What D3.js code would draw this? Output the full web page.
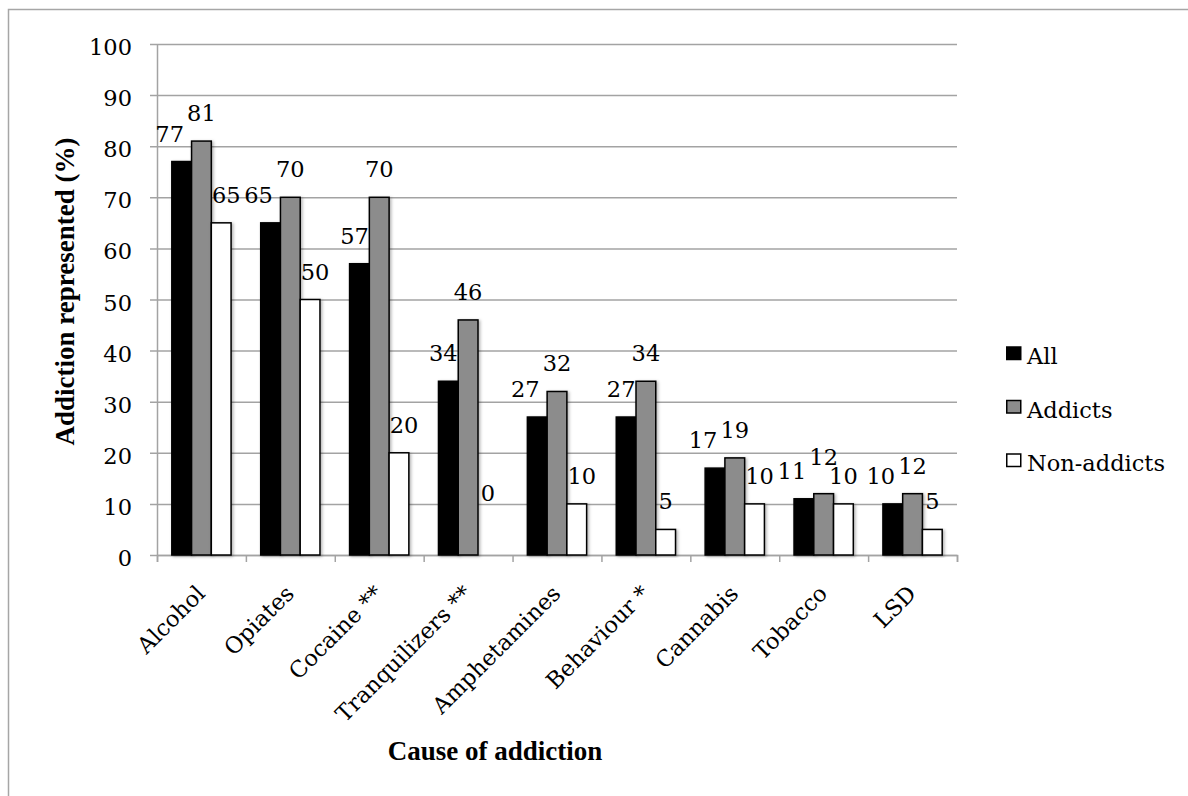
<!DOCTYPE html>
<html>
<head>
<meta charset="utf-8">
<script src="https://cdn.jsdelivr.net/npm/d3@7"></script>
<style>
  html, body { margin: 0; padding: 0; background: #fff; }
  svg { display: block; }
</style>
</head>
<body>
<svg id="chart" width="1188" height="796"></svg>
<script>
// Share of each cause of addiction represented, by respondent group
const categories = ["Alcohol", "Opiates", "Cocaine **", "Tranquilizers **", "Amphetamines",
                    "Behaviour *", "Cannabis", "Tobacco", "LSD"];
const seriesNames = ["All", "Addicts", "Non-addicts"];
const allValues       = [77, 65, 57, 34, 27, 27, 17, 11, 10];
const addictValues    = [81, 70, 70, 46, 32, 34, 19, 12, 12];
const nonAddictValues = [65, 50, 20,  0, 10,  5, 10, 10,  5];
const yTicks = [0, 10, 20, 30, 40, 50, 60, 70, 80, 90, 100];
const seriesFill = ["#000000", "#8c8c8c", "#ffffff"];

const seriesValues = [allValues, addictValues, nonAddictValues];

const W = 1188, H = 796;
const plot = { left: 157, right: 957, top: 44, bottom: 555 };
const serif = "'DejaVu Serif', serif";
const titleFont = "'Liberation Serif', 'Times New Roman', serif";
const fontSize = 22.5;
const gridColor = "#a3a3a3";

const svg = d3.select("#chart");

// drop shadow under the bars
const defs = svg.append("defs");
const shadow = defs.append("filter").attr("id", "barShadow")
  .attr("x", "-20%").attr("y", "-5%").attr("width", "150%").attr("height", "115%");
shadow.append("feDropShadow")
  .attr("dx", 1.5).attr("dy", 1).attr("stdDeviation", 1.4)
  .attr("flood-color", "#000").attr("flood-opacity", 0.3);

// outer chart frame
svg.append("rect")
  .attr("x", 8.5).attr("y", 9.5)
  .attr("width", W + 20).attr("height", H + 20)
  .attr("fill", "none").attr("stroke", "#a6a6a6").attr("stroke-width", 1.5);

const y = d3.scaleLinear().domain([0, 100]).range([plot.bottom, plot.top]);
const x0 = d3.scaleBand().domain(categories).range([plot.left, plot.right]).padding(0);
const groupWidth = x0.bandwidth() * 2 / 3;
const groupOffset = (x0.bandwidth() - groupWidth) / 2;
const x1 = d3.scaleBand().domain(seriesNames).range([0, groupWidth]).padding(0);

// gridlines + y axis
const yAxis = svg.append("g")
  .attr("transform", `translate(${plot.left},0)`)
  .call(d3.axisLeft(y).tickValues(yTicks).tickSizeInner(-(plot.right - plot.left)).tickSizeOuter(0));
yAxis.select(".domain").attr("stroke", gridColor).attr("stroke-width", 1.5);
yAxis.selectAll(".tick line")
  .attr("x1", -7)
  .attr("stroke", gridColor).attr("stroke-width", 1.5);
yAxis.selectAll(".tick text")
  .attr("x", -25).attr("dy", "0.47em")
  .attr("font-family", serif).attr("font-size", fontSize).attr("fill", "#000");

// x axis with ticks between categories
const xIdx = d3.scaleLinear().domain([0, categories.length]).range([plot.left, plot.right]);
const xAxis = svg.append("g")
  .attr("transform", `translate(0,${plot.bottom})`)
  .call(d3.axisBottom(xIdx).tickValues(d3.range(categories.length + 1)).tickSize(7).tickFormat(""));
xAxis.select(".domain").attr("stroke", gridColor).attr("stroke-width", 1.5);
xAxis.selectAll(".tick line").attr("stroke", gridColor).attr("stroke-width", 1.5);

// bars
const rows = categories.map((c, i) => ({
  category: c,
  values: seriesNames.map((s, k) => ({ category: c, series: s, k, value: seriesValues[k][i] }))
}));

const groups = svg.append("g").selectAll("g")
  .data(rows).join("g")
  .attr("transform", d => `translate(${x0(d.category) + groupOffset},0)`);

groups.selectAll("rect")
  .data(d => d.values.filter(v => v.value > 0))
  .join("rect")
  .attr("x", d => x1(d.series))
  .attr("y", d => y(d.value))
  .attr("width", x1.bandwidth())
  .attr("height", d => y(0) - y(d.value))
  .attr("fill", d => seriesFill[d.k])
  .attr("stroke", "#000").attr("stroke-width", 1.5)
  .attr("filter", "url(#barShadow)");

// value labels above the bars; crowded ones are nudged aside
const labelGap = 20, zeroLift = 34, glyphH = 16.5, mx = 1.5, my = 5;
const labelLayer = svg.append("g");
const labels = [];
rows.forEach(r => r.values.forEach(v => {
  const barX = x0(v.category) + groupOffset + x1(v.series);
  const t = labelLayer.append("text")
    .attr("font-family", serif).attr("font-size", fontSize)
    .attr("text-anchor", "middle").attr("fill", "#000")
    .text(v.value);
  labels.push({ ...v, node: t, barX, cx: barX + x1.bandwidth() / 2,
                base: y(v.value) - labelGap - (v.value === 0 ? zeroLift : 0),
                w: t.node().getComputedTextLength() });
}));

const bars = labels.filter(l => l.value > 0)
  .map(l => ({ x0: l.barX, x1: l.barX + x1.bandwidth(), y0: y(l.value), y1: y(0), ref: l }));
// text box for label-vs-label tests, and a tighter one for label-vs-bar tests
const box = (l, m = mx) => ({ x0: l.cx - l.w / 2 - m, x1: l.cx + l.w / 2 + m, y0: l.base - glyphH - my, y1: l.base + my });
const hit = (a, b) => a.x0 < b.x1 && b.x0 < a.x1 && a.y0 < b.y1 && b.y0 < a.y1;

const placed = [];
const clashes = l => {
  return placed.some(p => p !== l && hit(box(l), box(p))) ||
         bars.some(r => r.ref !== l && hit(box(l, 0.5), r));
};
// slide a label sideways (dir -1 / +1) up to maxShift; returns true when it found a free spot
function slide(l, dir, maxShift) {
  const start = l.cx;
  for (let s = 0; s <= maxShift; s += 0.5) {
    l.cx = start + dir * s;
    if (!clashes(l)) return true;
  }
  l.cx = start;
  return false;
}

const byK = k => labels.filter(l => l.k === k);
byK(1).forEach(l => placed.push(l));                   // middle series stays centred
byK(2).forEach(l => {                                   // right series slides right
  if (!slide(l, 1, 8)) {
    // no room: lift the neighbouring middle label just clear of it
    const mid = placed.find(p => p.k === 1 && p.category === l.category);
    mid.base = Math.min(mid.base, l.base - glyphH - 2);
  }
  placed.push(l);
});
byK(0).forEach(l => { slide(l, -1, 30); placed.push(l); });   // left series slides left

labels.forEach(l => l.node.attr("x", l.cx).attr("y", l.base));

// category labels, rotated
svg.append("g").selectAll("text")
  .data(categories).join("text")
  .attr("transform", d => `translate(${x0(d) + x0.bandwidth() / 2 + 5},${plot.bottom + 40}) rotate(-45)`)
  .attr("text-anchor", "end")
  .attr("font-family", serif).attr("font-size", fontSize).attr("fill", "#000")
  .text(d => d);

// axis titles
svg.append("text")
  .attr("x", 495).attr("y", 760)
  .attr("text-anchor", "middle")
  .attr("font-family", titleFont).attr("font-weight", "bold").attr("font-size", 27)
  .text("Cause of addiction");

svg.append("text")
  .attr("transform", `translate(74,${(plot.top + plot.bottom) / 2 - 8}) rotate(-90)`)
  .attr("text-anchor", "middle")
  .attr("font-family", titleFont).attr("font-weight", "bold").attr("font-size", 27)
  .text("Addiction represented (%)");

// legend
const legendSpacing = 53.5;
const legend = svg.append("g").selectAll("g")
  .data(seriesNames).join("g")
  .attr("transform", (d, i) => `translate(1006,${353.5 + i * legendSpacing})`);
legend.append("rect")
  .attr("x", 0.75).attr("y", -6.5)
  .attr("width", 14).attr("height", 12.5)
  .attr("fill", (d, i) => seriesFill[i])
  .attr("stroke", "#000").attr("stroke-width", 1.5);
legend.append("text")
  .attr("x", 21).attr("y", 10.5)
  .attr("font-family", serif).attr("font-size", fontSize).attr("fill", "#000")
  .text(d => d);
</script>
</body>
</html>
